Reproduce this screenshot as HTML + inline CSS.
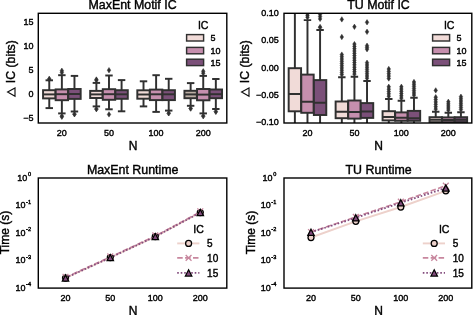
<!DOCTYPE html>
<html><head><meta charset="utf-8"><style>
html,body{margin:0;padding:0;background:#fff;width:473px;height:315px;overflow:hidden}
svg{display:block;will-change:transform;filter:blur(0.35px)}
text{font-family:"Liberation Sans", sans-serif;fill:#000;stroke:#000;stroke-width:0.4px}
</style></head><body>
<svg width="473" height="315" viewBox="0 0 473 315">
<text x="132.6" y="8.7" font-size="12.4" text-anchor="middle" >MaxEnt Motif IC</text>
<rect x="38.3" y="13.3" width="188.5" height="109.7" fill="none" stroke="#000" stroke-width="1.4"/>
<path d="M49.26 76.30L51.01 79.00L49.26 81.70L47.51 79.00ZM49.26 76.30L51.01 79.00L49.26 81.70L47.51 79.00Z" fill="#303030" stroke="#303030" stroke-width="0.5"/>
<g stroke="#303030" stroke-width="1.95"><line x1="49.262499999999996" y1="90.2" x2="49.262499999999996" y2="80.3" /><line x1="49.262499999999996" y1="98.4" x2="49.262499999999996" y2="108.1" /><line x1="45.5425" y1="80.3" x2="52.982499999999995" y2="80.3" /><line x1="45.5425" y1="108.1" x2="52.982499999999995" y2="108.1" /><rect x="43.06249999999999" y="90.2" width="12.4" height="8.200000000000003" fill="#f1dbd8" /><line x1="43.06249999999999" y1="94.4" x2="55.4625" y2="94.4" /></g>
<path d="M61.86 68.00L63.61 70.70L61.86 73.40L60.11 70.70ZM61.86 69.80L63.61 72.50L61.86 75.20L60.11 72.50ZM61.86 113.40L63.61 116.10L61.86 118.80L60.11 116.10ZM61.86 114.10L63.61 116.80L61.86 119.50L60.11 116.80Z" fill="#303030" stroke="#303030" stroke-width="0.5"/>
<g stroke="#303030" stroke-width="1.95"><line x1="61.8625" y1="89.4" x2="61.8625" y2="75.2" /><line x1="61.8625" y1="100.2" x2="61.8625" y2="113.4" /><line x1="58.1425" y1="75.2" x2="65.5825" y2="75.2" /><line x1="58.1425" y1="113.4" x2="65.5825" y2="113.4" /><rect x="55.662499999999994" y="89.4" width="12.4" height="10.799999999999997" fill="#c68fae" /><line x1="55.662499999999994" y1="94.2" x2="68.0625" y2="94.2" /></g>
<path d="M74.46 111.50L76.21 114.20L74.46 116.90L72.71 114.20ZM74.46 111.50L76.21 114.20L74.46 116.90L72.71 114.20Z" fill="#303030" stroke="#303030" stroke-width="0.5"/>
<g stroke="#303030" stroke-width="1.95"><line x1="74.46249999999999" y1="89.0" x2="74.46249999999999" y2="75.9" /><line x1="74.46249999999999" y1="98.9" x2="74.46249999999999" y2="111.5" /><line x1="70.74249999999999" y1="75.9" x2="78.18249999999999" y2="75.9" /><line x1="70.74249999999999" y1="111.5" x2="78.18249999999999" y2="111.5" /><rect x="68.26249999999999" y="89.0" width="12.4" height="9.900000000000006" fill="#7b5079" /><line x1="68.26249999999999" y1="94.0" x2="80.6625" y2="94.0" /></g>
<path d="M96.39 76.80L98.14 79.50L96.39 82.20L94.64 79.50ZM96.39 77.50L98.14 80.20L96.39 82.90L94.64 80.20ZM96.39 106.40L98.14 109.10L96.39 111.80L94.64 109.10ZM96.39 106.40L98.14 109.10L96.39 111.80L94.64 109.10Z" fill="#303030" stroke="#303030" stroke-width="0.5"/>
<g stroke="#303030" stroke-width="1.95"><line x1="96.3875" y1="90.9" x2="96.3875" y2="82.9" /><line x1="96.3875" y1="98.0" x2="96.3875" y2="106.4" /><line x1="92.6675" y1="82.9" x2="100.1075" y2="82.9" /><line x1="92.6675" y1="106.4" x2="100.1075" y2="106.4" /><rect x="90.1875" y="90.9" width="12.4" height="7.099999999999994" fill="#f1dbd8" /><line x1="90.1875" y1="94.4" x2="102.5875" y2="94.4" /></g>
<path d="M108.99 67.50L110.74 70.20L108.99 72.90L107.24 70.20ZM108.99 111.70L110.74 114.40L108.99 117.10L107.24 114.40Z" fill="#303030" stroke="#303030" stroke-width="0.5"/>
<g stroke="#303030" stroke-width="1.95"><line x1="108.9875" y1="89.2" x2="108.9875" y2="75.5" /><line x1="108.9875" y1="99.8" x2="108.9875" y2="109.3" /><line x1="105.2675" y1="75.5" x2="112.7075" y2="75.5" /><line x1="105.2675" y1="109.3" x2="112.7075" y2="109.3" /><rect x="102.7875" y="89.2" width="12.4" height="10.599999999999994" fill="#c68fae" /><line x1="102.7875" y1="94.2" x2="115.1875" y2="94.2" /></g>
<g stroke="#303030" stroke-width="1.95"><line x1="121.58749999999999" y1="90.2" x2="121.58749999999999" y2="80.1" /><line x1="121.58749999999999" y1="98.8" x2="121.58749999999999" y2="111.3" /><line x1="117.86749999999999" y1="80.1" x2="125.30749999999999" y2="80.1" /><line x1="117.86749999999999" y1="111.3" x2="125.30749999999999" y2="111.3" /><rect x="115.38749999999999" y="90.2" width="12.4" height="8.599999999999994" fill="#7b5079" /><line x1="115.38749999999999" y1="94.3" x2="127.7875" y2="94.3" /></g>
<g stroke="#303030" stroke-width="1.95"><line x1="143.51250000000002" y1="90.3" x2="143.51250000000002" y2="81.3" /><line x1="143.51250000000002" y1="98.7" x2="143.51250000000002" y2="106.4" /><line x1="139.79250000000002" y1="81.3" x2="147.23250000000002" y2="81.3" /><line x1="139.79250000000002" y1="106.4" x2="147.23250000000002" y2="106.4" /><rect x="137.31250000000003" y="90.3" width="12.4" height="8.400000000000006" fill="#f1dbd8" /><line x1="137.31250000000003" y1="94.5" x2="149.7125" y2="94.5" /></g>
<g stroke="#303030" stroke-width="1.95"><line x1="156.1125" y1="89.6" x2="156.1125" y2="75.2" /><line x1="156.1125" y1="100.1" x2="156.1125" y2="111.9" /><line x1="152.3925" y1="75.2" x2="159.8325" y2="75.2" /><line x1="152.3925" y1="111.9" x2="159.8325" y2="111.9" /><rect x="149.91250000000002" y="89.6" width="12.4" height="10.5" fill="#c68fae" /><line x1="149.91250000000002" y1="94.3" x2="162.3125" y2="94.3" /></g>
<path d="M168.71 110.60L170.46 113.30L168.71 116.00L166.96 113.30ZM168.71 110.60L170.46 113.30L168.71 116.00L166.96 113.30Z" fill="#303030" stroke="#303030" stroke-width="0.5"/>
<g stroke="#303030" stroke-width="1.95"><line x1="168.7125" y1="90.2" x2="168.7125" y2="78.8" /><line x1="168.7125" y1="100.1" x2="168.7125" y2="110.6" /><line x1="164.9925" y1="78.8" x2="172.4325" y2="78.8" /><line x1="164.9925" y1="110.6" x2="172.4325" y2="110.6" /><rect x="162.51250000000002" y="90.2" width="12.4" height="9.899999999999991" fill="#7b5079" /><line x1="162.51250000000002" y1="94.3" x2="174.9125" y2="94.3" /></g>
<path d="M190.64 105.80L192.39 108.50L190.64 111.20L188.89 108.50ZM190.64 105.80L192.39 108.50L190.64 111.20L188.89 108.50Z" fill="#303030" stroke="#303030" stroke-width="0.5"/>
<g stroke="#303030" stroke-width="1.95"><line x1="190.63750000000002" y1="90.8" x2="190.63750000000002" y2="83.1" /><line x1="190.63750000000002" y1="98.2" x2="190.63750000000002" y2="105.8" /><line x1="186.91750000000002" y1="83.1" x2="194.35750000000002" y2="83.1" /><line x1="186.91750000000002" y1="105.8" x2="194.35750000000002" y2="105.8" /><rect x="184.43750000000003" y="90.8" width="12.4" height="7.400000000000006" fill="#bcaea4" /><line x1="184.43750000000003" y1="94.4" x2="196.8375" y2="94.4" /></g>
<path d="M203.24 68.60L204.99 71.30L203.24 74.00L201.49 71.30ZM203.24 70.50L204.99 73.20L203.24 75.90L201.49 73.20ZM203.24 113.40L204.99 116.10L203.24 118.80L201.49 116.10ZM203.24 113.40L204.99 116.10L203.24 118.80L201.49 116.10Z" fill="#303030" stroke="#303030" stroke-width="0.5"/>
<g stroke="#303030" stroke-width="1.95"><line x1="203.2375" y1="89.0" x2="203.2375" y2="75.9" /><line x1="203.2375" y1="100.3" x2="203.2375" y2="113.4" /><line x1="199.5175" y1="75.9" x2="206.9575" y2="75.9" /><line x1="199.5175" y1="113.4" x2="206.9575" y2="113.4" /><rect x="197.03750000000002" y="89.0" width="12.4" height="11.299999999999997" fill="#c68fae" /><line x1="197.03750000000002" y1="94.6" x2="209.4375" y2="94.6" /></g>
<path d="M215.84 109.00L217.59 111.70L215.84 114.40L214.09 111.70ZM215.84 109.00L217.59 111.70L215.84 114.40L214.09 111.70Z" fill="#303030" stroke="#303030" stroke-width="0.5"/>
<g stroke="#303030" stroke-width="1.95"><line x1="215.8375" y1="89.5" x2="215.8375" y2="79.0" /><line x1="215.8375" y1="98.2" x2="215.8375" y2="109.0" /><line x1="212.1175" y1="79.0" x2="219.5575" y2="79.0" /><line x1="212.1175" y1="109.0" x2="219.5575" y2="109.0" /><rect x="209.63750000000002" y="89.5" width="12.4" height="8.700000000000003" fill="#7b5079" /><line x1="209.63750000000002" y1="94.2" x2="222.0375" y2="94.2" /></g>
<text x="33.4" y="25.2" font-size="9" text-anchor="end" >15</text>
<text x="33.4" y="49.099999999999994" font-size="9" text-anchor="end" >10</text>
<text x="33.4" y="72.89999999999999" font-size="9" text-anchor="end" >5</text>
<text x="33.4" y="97.0" font-size="9" text-anchor="end" >0</text>
<text x="33.4" y="121.2" font-size="9" text-anchor="end" >−5</text>
<text x="61.8625" y="135.8" font-size="9" text-anchor="middle" >20</text>
<text x="108.9875" y="135.8" font-size="9" text-anchor="middle" >50</text>
<text x="156.1125" y="135.8" font-size="9" text-anchor="middle" >100</text>
<text x="203.2375" y="135.8" font-size="9" text-anchor="middle" >200</text>
<text x="133.2" y="149.6" font-size="12" text-anchor="middle" >N</text>
<text transform="translate(15.4 83.2) rotate(-90)" font-size="12.3" text-anchor="start">IC (bits)</text>
<path d="M7.6 92.0L15.0 87.9L15.0 96.2Z" fill="none" stroke="#111" stroke-width="1.15" stroke-linejoin="miter"/>
<text x="203.2" y="28.7" font-size="10.5" text-anchor="middle" >IC</text>
<rect x="186.6" y="34.6" width="17" height="6.4" fill="#f1dbd8" stroke="#303030" stroke-width="1.45"/>
<text x="210.4" y="41.0" font-size="9" text-anchor="start" >5</text>
<rect x="186.6" y="47.4" width="17" height="6.4" fill="#c68fae" stroke="#303030" stroke-width="1.45"/>
<text x="210.4" y="53.8" font-size="9" text-anchor="start" >10</text>
<rect x="186.6" y="59.2" width="17" height="6.4" fill="#7b5079" stroke="#303030" stroke-width="1.45"/>
<text x="210.4" y="65.60000000000001" font-size="9" text-anchor="start" >15</text>
<text x="378.5" y="8.7" font-size="12.4" text-anchor="middle" >TU Motif IC</text>
<clipPath id="c1"><rect x="284.0" y="13.3" width="187.8" height="109.7"/></clipPath>
<g clip-path="url(#c1)">
<g stroke="#303030" stroke-width="1.95"><line x1="294.875" y1="68.2" x2="294.875" y2="5.0" /><line x1="294.875" y1="111.3" x2="294.875" y2="140" /><line x1="291.155" y1="5.0" x2="298.595" y2="5.0" /><line x1="291.155" y1="140" x2="298.595" y2="140" /><rect x="288.675" y="68.2" width="12.4" height="43.099999999999994" fill="#f1dbd8" /><line x1="288.675" y1="94.0" x2="301.075" y2="94.0" /></g>
<path d="M307.48 11.00L309.23 13.70L307.48 16.40L305.73 13.70ZM307.48 12.80L309.23 15.50L307.48 18.20L305.73 15.50ZM307.48 14.60L309.23 17.30L307.48 20.00L305.73 17.30Z" fill="#303030" stroke="#303030" stroke-width="0.5"/>
<g stroke="#303030" stroke-width="1.95"><line x1="307.475" y1="74.6" x2="307.475" y2="20.1" /><line x1="307.475" y1="112.8" x2="307.475" y2="140" /><line x1="303.755" y1="20.1" x2="311.19500000000005" y2="20.1" /><line x1="303.755" y1="140" x2="311.19500000000005" y2="140" /><rect x="301.27500000000003" y="74.6" width="12.4" height="38.2" fill="#c68fae" /><line x1="301.27500000000003" y1="101.7" x2="313.675" y2="101.7" /></g>
<path d="M320.08 11.50L321.83 14.20L320.08 16.90L318.33 14.20ZM320.08 13.85L321.83 16.55L320.08 19.25L318.33 16.55ZM320.08 16.20L321.83 18.90L320.08 21.60L318.33 18.90ZM320.08 24.50L321.83 27.20L320.08 29.90L318.33 27.20ZM320.08 24.50L321.83 27.20L320.08 29.90L318.33 27.20Z" fill="#303030" stroke="#303030" stroke-width="0.5"/>
<g stroke="#303030" stroke-width="1.95"><line x1="320.07500000000005" y1="80.1" x2="320.07500000000005" y2="29.9" /><line x1="320.07500000000005" y1="115.0" x2="320.07500000000005" y2="140" /><line x1="316.355" y1="29.9" x2="323.7950000000001" y2="29.9" /><line x1="316.355" y1="140" x2="323.7950000000001" y2="140" /><rect x="313.87500000000006" y="80.1" width="12.4" height="34.900000000000006" fill="#7b5079" /><line x1="313.87500000000006" y1="102.7" x2="326.27500000000003" y2="102.7" /></g>
<path d="M341.82 16.70L343.57 19.40L341.82 22.10L340.07 19.40ZM341.82 34.30L343.57 37.00L341.82 39.70L340.07 37.00ZM341.82 51.90L343.57 54.60L341.82 57.30L340.07 54.60ZM341.82 54.12L343.57 56.82L341.82 59.52L340.07 56.82ZM341.82 56.34L343.57 59.04L341.82 61.74L340.07 59.04ZM341.82 58.57L343.57 61.27L341.82 63.97L340.07 61.27ZM341.82 60.79L343.57 63.49L341.82 66.19L340.07 63.49ZM341.82 63.01L343.57 65.71L341.82 68.41L340.07 65.71ZM341.82 65.23L343.57 67.93L341.82 70.63L340.07 67.93ZM341.82 67.46L343.57 70.16L341.82 72.86L340.07 70.16ZM341.82 69.68L343.57 72.38L341.82 75.08L340.07 72.38ZM341.82 71.90L343.57 74.60L341.82 77.30L340.07 74.60Z" fill="#303030" stroke="#303030" stroke-width="0.5"/>
<g stroke="#303030" stroke-width="1.95"><line x1="341.825" y1="101.5" x2="341.825" y2="77.3" /><line x1="341.825" y1="118.2" x2="341.825" y2="140" /><line x1="338.10499999999996" y1="77.3" x2="345.545" y2="77.3" /><line x1="338.10499999999996" y1="140" x2="345.545" y2="140" /><rect x="335.625" y="101.5" width="12.4" height="16.700000000000003" fill="#f1dbd8" /><line x1="335.625" y1="111.7" x2="348.025" y2="111.7" /></g>
<path d="M354.43 24.10L356.18 26.80L354.43 29.50L352.68 26.80ZM354.43 41.40L356.18 44.10L354.43 46.80L352.68 44.10ZM354.43 43.71L356.18 46.41L354.43 49.11L352.68 46.41ZM354.43 46.02L356.18 48.72L354.43 51.42L352.68 48.72ZM354.43 48.32L356.18 51.02L354.43 53.72L352.68 51.02ZM354.43 50.63L356.18 53.33L354.43 56.03L352.68 53.33ZM354.43 52.94L356.18 55.64L354.43 58.34L352.68 55.64ZM354.43 55.25L356.18 57.95L354.43 60.65L352.68 57.95ZM354.43 57.55L356.18 60.25L354.43 62.95L352.68 60.25ZM354.43 59.86L356.18 62.56L354.43 65.26L352.68 62.56ZM354.43 62.17L356.18 64.87L354.43 67.57L352.68 64.87ZM354.43 64.48L356.18 67.18L354.43 69.88L352.68 67.18ZM354.43 66.78L356.18 69.48L354.43 72.18L352.68 69.48ZM354.43 69.09L356.18 71.79L354.43 74.49L352.68 71.79ZM354.43 71.40L356.18 74.10L354.43 76.80L352.68 74.10Z" fill="#303030" stroke="#303030" stroke-width="0.5"/>
<g stroke="#303030" stroke-width="1.95"><line x1="354.425" y1="100.5" x2="354.425" y2="76.8" /><line x1="354.425" y1="118.6" x2="354.425" y2="140" /><line x1="350.705" y1="76.8" x2="358.14500000000004" y2="76.8" /><line x1="350.705" y1="140" x2="358.14500000000004" y2="140" /><rect x="348.225" y="100.5" width="12.4" height="18.099999999999994" fill="#c68fae" /><line x1="348.225" y1="112.0" x2="360.625" y2="112.0" /></g>
<path d="M367.03 19.60L368.78 22.30L367.03 25.00L365.28 22.30ZM367.03 29.10L368.78 31.80L367.03 34.50L365.28 31.80ZM367.03 43.00L368.78 45.70L367.03 48.40L365.28 45.70ZM367.03 44.75L368.78 47.45L367.03 50.15L365.28 47.45ZM367.03 46.50L368.78 49.20L367.03 51.90L365.28 49.20ZM367.03 60.00L368.78 62.70L367.03 65.40L365.28 62.70ZM367.03 62.21L368.78 64.91L367.03 67.61L365.28 64.91ZM367.03 64.43L368.78 67.13L367.03 69.83L365.28 67.13ZM367.03 66.64L368.78 69.34L367.03 72.04L365.28 69.34ZM367.03 68.86L368.78 71.56L367.03 74.26L365.28 71.56ZM367.03 71.07L368.78 73.77L367.03 76.47L365.28 73.77ZM367.03 73.29L368.78 75.99L367.03 78.69L365.28 75.99ZM367.03 75.50L368.78 78.20L367.03 80.90L365.28 78.20Z" fill="#303030" stroke="#303030" stroke-width="0.5"/>
<g stroke="#303030" stroke-width="1.95"><line x1="367.02500000000003" y1="103.1" x2="367.02500000000003" y2="80.9" /><line x1="367.02500000000003" y1="117.9" x2="367.02500000000003" y2="140" /><line x1="363.305" y1="80.9" x2="370.74500000000006" y2="80.9" /><line x1="363.305" y1="140" x2="370.74500000000006" y2="140" /><rect x="360.82500000000005" y="103.1" width="12.4" height="14.800000000000011" fill="#7b5079" /><line x1="360.82500000000005" y1="111.4" x2="373.225" y2="111.4" /></g>
<path d="M388.77 66.30L390.52 69.00L388.77 71.70L387.02 69.00ZM388.77 68.67L390.52 71.38L388.77 74.08L387.02 71.38ZM388.77 71.05L390.52 73.75L388.77 76.45L387.02 73.75ZM388.77 73.42L390.52 76.12L388.77 78.83L387.02 76.12ZM388.77 75.80L390.52 78.50L388.77 81.20L387.02 78.50ZM388.77 84.10L390.52 86.80L388.77 89.50L387.02 86.80ZM388.77 86.45L390.52 89.15L388.77 91.85L387.02 89.15ZM388.77 88.80L390.52 91.50L388.77 94.20L387.02 91.50ZM388.77 91.15L390.52 93.85L388.77 96.55L387.02 93.85ZM388.77 93.50L390.52 96.20L388.77 98.90L387.02 96.20Z" fill="#303030" stroke="#303030" stroke-width="0.5"/>
<g stroke="#303030" stroke-width="1.95"><line x1="388.775" y1="111.2" x2="388.775" y2="98.9" /><line x1="388.775" y1="120.4" x2="388.775" y2="140" /><line x1="385.05499999999995" y1="98.9" x2="392.495" y2="98.9" /><line x1="385.05499999999995" y1="140" x2="392.495" y2="140" /><rect x="382.575" y="111.2" width="12.4" height="9.200000000000003" fill="#f1dbd8" /><line x1="382.575" y1="116.9" x2="394.97499999999997" y2="116.9" /></g>
<path d="M401.38 84.10L403.12 86.80L401.38 89.50L399.62 86.80ZM401.38 86.36L403.12 89.06L401.38 91.76L399.62 89.06ZM401.38 88.62L403.12 91.32L401.38 94.02L399.62 91.32ZM401.38 90.88L403.12 93.58L401.38 96.28L399.62 93.58ZM401.38 93.14L403.12 95.84L401.38 98.54L399.62 95.84ZM401.38 95.40L403.12 98.10L401.38 100.80L399.62 98.10Z" fill="#303030" stroke="#303030" stroke-width="0.5"/>
<g stroke="#303030" stroke-width="1.95"><line x1="401.375" y1="112.4" x2="401.375" y2="100.8" /><line x1="401.375" y1="120.8" x2="401.375" y2="140" /><line x1="397.655" y1="100.8" x2="405.095" y2="100.8" /><line x1="397.655" y1="140" x2="405.095" y2="140" /><rect x="395.175" y="112.4" width="12.4" height="8.399999999999991" fill="#c68fae" /><line x1="395.175" y1="117.8" x2="407.575" y2="117.8" /></g>
<path d="M413.98 79.30L415.73 82.00L413.98 84.70L412.23 82.00ZM413.98 81.48L415.73 84.18L413.98 86.88L412.23 84.18ZM413.98 83.67L415.73 86.37L413.98 89.07L412.23 86.37ZM413.98 85.85L415.73 88.55L413.98 91.25L412.23 88.55ZM413.98 88.03L415.73 90.73L413.98 93.43L412.23 90.73ZM413.98 90.22L415.73 92.92L413.98 95.62L412.23 92.92ZM413.98 92.40L415.73 95.10L413.98 97.80L412.23 95.10Z" fill="#303030" stroke="#303030" stroke-width="0.5"/>
<g stroke="#303030" stroke-width="1.95"><line x1="413.975" y1="110.9" x2="413.975" y2="97.8" /><line x1="413.975" y1="120.8" x2="413.975" y2="140" /><line x1="410.255" y1="97.8" x2="417.69500000000005" y2="97.8" /><line x1="410.255" y1="140" x2="417.69500000000005" y2="140" /><rect x="407.77500000000003" y="110.9" width="12.4" height="9.899999999999991" fill="#7b5079" /><line x1="407.77500000000003" y1="118.3" x2="420.175" y2="118.3" /></g>
<path d="M435.73 87.70L437.48 90.40L435.73 93.10L433.98 90.40ZM435.73 94.50L437.48 97.20L435.73 99.90L433.98 97.20ZM435.73 96.88L437.48 99.58L435.73 102.28L433.98 99.58ZM435.73 99.26L437.48 101.96L435.73 104.66L433.98 101.96ZM435.73 101.64L437.48 104.34L435.73 107.04L433.98 104.34ZM435.73 104.02L437.48 106.72L435.73 109.42L433.98 106.72ZM435.73 106.40L437.48 109.10L435.73 111.80L433.98 109.10Z" fill="#303030" stroke="#303030" stroke-width="0.5"/>
<g stroke="#303030" stroke-width="1.95"><line x1="435.725" y1="117.2" x2="435.725" y2="111.8" /><line x1="435.725" y1="122.2" x2="435.725" y2="140" /><line x1="432.005" y1="111.8" x2="439.44500000000005" y2="111.8" /><line x1="432.005" y1="140" x2="439.44500000000005" y2="140" /><rect x="429.52500000000003" y="117.2" width="12.4" height="5.0" fill="#f1dbd8" /><line x1="429.52500000000003" y1="119.7" x2="441.925" y2="119.7" /></g>
<path d="M448.33 99.10L450.08 101.80L448.33 104.50L446.58 101.80ZM448.33 101.17L450.08 103.88L448.33 106.58L446.58 103.88ZM448.33 103.25L450.08 105.95L448.33 108.65L446.58 105.95ZM448.33 105.32L450.08 108.02L448.33 110.72L446.58 108.02ZM448.33 107.40L450.08 110.10L448.33 112.80L446.58 110.10Z" fill="#303030" stroke="#303030" stroke-width="0.5"/>
<g stroke="#303030" stroke-width="1.95"><line x1="448.32500000000005" y1="117.4" x2="448.32500000000005" y2="112.8" /><line x1="448.32500000000005" y1="122.2" x2="448.32500000000005" y2="140" /><line x1="444.605" y1="112.8" x2="452.0450000000001" y2="112.8" /><line x1="444.605" y1="140" x2="452.0450000000001" y2="140" /><rect x="442.12500000000006" y="117.4" width="12.4" height="4.799999999999997" fill="#c68fae" /><line x1="442.12500000000006" y1="119.9" x2="454.52500000000003" y2="119.9" /></g>
<path d="M460.93 94.00L462.68 96.70L460.93 99.40L459.18 96.70ZM460.93 96.15L462.68 98.85L460.93 101.55L459.18 98.85ZM460.93 98.30L462.68 101.00L460.93 103.70L459.18 101.00ZM460.93 100.45L462.68 103.15L460.93 105.85L459.18 103.15ZM460.93 102.60L462.68 105.30L460.93 108.00L459.18 105.30ZM460.93 104.75L462.68 107.45L460.93 110.15L459.18 107.45ZM460.93 106.90L462.68 109.60L460.93 112.30L459.18 109.60Z" fill="#303030" stroke="#303030" stroke-width="0.5"/>
<g stroke="#303030" stroke-width="1.95"><line x1="460.92500000000007" y1="117.2" x2="460.92500000000007" y2="112.3" /><line x1="460.92500000000007" y1="122.2" x2="460.92500000000007" y2="140" /><line x1="457.20500000000004" y1="112.3" x2="464.6450000000001" y2="112.3" /><line x1="457.20500000000004" y1="140" x2="464.6450000000001" y2="140" /><rect x="454.7250000000001" y="117.2" width="12.4" height="5.0" fill="#7b5079" /><line x1="454.7250000000001" y1="119.8" x2="467.12500000000006" y2="119.8" /></g>
</g>
<rect x="284.0" y="13.3" width="187.8" height="109.7" fill="none" stroke="#000" stroke-width="1.4"/>
<text x="278.8" y="15.7" font-size="9" text-anchor="end" >0.10</text>
<text x="278.8" y="43.0" font-size="9" text-anchor="end" >0.05</text>
<text x="278.8" y="70.6" font-size="9" text-anchor="end" >0.00</text>
<text x="278.8" y="98.1" font-size="9" text-anchor="end" >−0.05</text>
<text x="278.8" y="125.39999999999999" font-size="9" text-anchor="end" >−0.10</text>
<text x="307.475" y="135.8" font-size="9" text-anchor="middle" >20</text>
<text x="354.425" y="135.8" font-size="9" text-anchor="middle" >50</text>
<text x="401.375" y="135.8" font-size="9" text-anchor="middle" >100</text>
<text x="448.32500000000005" y="135.8" font-size="9" text-anchor="middle" >200</text>
<text x="378.6" y="149.6" font-size="12" text-anchor="middle" >N</text>
<text transform="translate(249.4 83.2) rotate(-90)" font-size="12.3" text-anchor="start">IC (bits)</text>
<path d="M241.6 92.0L249.0 87.9L249.0 96.2Z" fill="none" stroke="#111" stroke-width="1.15" stroke-linejoin="miter"/>
<text x="449.2" y="28.7" font-size="10.5" text-anchor="middle" >IC</text>
<rect x="432.6" y="34.6" width="17" height="6.4" fill="#f1dbd8" stroke="#303030" stroke-width="1.45"/>
<text x="456.4" y="41.0" font-size="9" text-anchor="start" >5</text>
<rect x="432.6" y="47.4" width="17" height="6.4" fill="#c68fae" stroke="#303030" stroke-width="1.45"/>
<text x="456.4" y="53.8" font-size="9" text-anchor="start" >10</text>
<rect x="432.6" y="59.2" width="17" height="6.4" fill="#7b5079" stroke="#303030" stroke-width="1.45"/>
<text x="456.4" y="65.60000000000001" font-size="9" text-anchor="start" >15</text>
<text x="132.7" y="173.9" font-size="12.4" text-anchor="middle" >MaxEnt Runtime</text>
<rect x="38.3" y="178.0" width="188.5" height="110.10000000000002" fill="none" stroke="#000" stroke-width="1.4"/>
<path d="M65.5 278.0L110.3 257.6L155.3 236.6L200.3 212.5" fill="none" stroke="#edd1cb" stroke-width="1.9" />
<path d="M65.5 277.4L110.3 257.0L155.3 236.0L200.3 211.9" fill="none" stroke="#c8879e" stroke-width="1.6" stroke-dasharray="5.5 2.4"/>
<path d="M65.5 278.0L110.3 257.6L155.3 236.6L200.3 212.5" fill="none" stroke="#834c7d" stroke-width="1.8" stroke-dasharray="1.6 1.9"/>
<circle cx="65.5" cy="278.0" r="3.0" fill="#edd1cb" stroke="#000" stroke-width="1.25"/>
<path d="M62.6 273.90000000000003L68.4 279.7M62.6 279.7L68.4 273.90000000000003" stroke="#c8879e" stroke-width="1.3" fill="none"/>
<path d="M65.5 274.9L68.7 281.1L62.3 281.1Z" fill="#834c7d" stroke="#000" stroke-width="1.25" stroke-linejoin="miter"/>
<circle cx="110.3" cy="257.6" r="3.0" fill="#edd1cb" stroke="#000" stroke-width="1.25"/>
<path d="M107.39999999999999 253.50000000000003L113.2 259.3M107.39999999999999 259.3L113.2 253.50000000000003" stroke="#c8879e" stroke-width="1.3" fill="none"/>
<path d="M110.3 254.50000000000003L113.5 260.70000000000005L107.1 260.70000000000005Z" fill="#834c7d" stroke="#000" stroke-width="1.25" stroke-linejoin="miter"/>
<circle cx="155.3" cy="236.6" r="3.0" fill="#edd1cb" stroke="#000" stroke-width="1.25"/>
<path d="M152.4 232.5L158.20000000000002 238.3M152.4 238.3L158.20000000000002 232.5" stroke="#c8879e" stroke-width="1.3" fill="none"/>
<path d="M155.3 233.5L158.5 239.7L152.10000000000002 239.7Z" fill="#834c7d" stroke="#000" stroke-width="1.25" stroke-linejoin="miter"/>
<circle cx="200.3" cy="212.5" r="3.0" fill="#edd1cb" stroke="#000" stroke-width="1.25"/>
<path d="M197.4 208.4L203.20000000000002 214.20000000000002M197.4 214.20000000000002L203.20000000000002 208.4" stroke="#c8879e" stroke-width="1.3" fill="none"/>
<path d="M200.3 209.4L203.5 215.6L197.10000000000002 215.6Z" fill="#834c7d" stroke="#000" stroke-width="1.25" stroke-linejoin="miter"/>
<text x="31.05" y="180.79999999999998" font-size="9" text-anchor="end">10<tspan font-size="5.6" dx="0.6" dy="-4.6">0</tspan></text>
<text x="31.05" y="208.2" font-size="9" text-anchor="end">10<tspan font-size="5.6" dx="0.6" dy="-4.6">-1</tspan></text>
<text x="31.05" y="235.7" font-size="9" text-anchor="end">10<tspan font-size="5.6" dx="0.6" dy="-4.6">-2</tspan></text>
<text x="31.05" y="263.2" font-size="9" text-anchor="end">10<tspan font-size="5.6" dx="0.6" dy="-4.6">-3</tspan></text>
<text x="31.05" y="290.8" font-size="9" text-anchor="end">10<tspan font-size="5.6" dx="0.6" dy="-4.6">-4</tspan></text>
<text x="65.5" y="300.8" font-size="9" text-anchor="middle" >20</text>
<text x="110.3" y="300.8" font-size="9" text-anchor="middle" >50</text>
<text x="155.3" y="300.8" font-size="9" text-anchor="middle" >100</text>
<text x="200.3" y="300.8" font-size="9" text-anchor="middle" >200</text>
<text x="133.2" y="314.6" font-size="12" text-anchor="middle" >N</text>
<text transform="translate(8.9 232.6) rotate(-90)" font-size="12" text-anchor="middle">Time (s)</text>
<text x="198.6" y="232.8" font-size="10.5" text-anchor="middle" >IC</text>
<line x1="177.2" y1="243.4" x2="199.4" y2="243.4" stroke="#edd1cb" stroke-width="1.9" />
<circle cx="188.6" cy="243.4" r="3.0" fill="#edd1cb" stroke="#000" stroke-width="1.25"/>
<text x="207.1" y="247.0" font-size="10" text-anchor="start" >5</text>
<line x1="177.2" y1="257.9" x2="199.4" y2="257.9" stroke="#c8879e" stroke-width="1.6" stroke-dasharray="5.5 2.4"/>
<path d="M185.7 254.99999999999997L191.5 260.79999999999995M185.7 260.79999999999995L191.5 254.99999999999997" stroke="#c8879e" stroke-width="1.3" fill="none"/>
<text x="207.1" y="261.5" font-size="10" text-anchor="start" >10</text>
<line x1="177.2" y1="272.9" x2="199.4" y2="272.9" stroke="#834c7d" stroke-width="1.8" stroke-dasharray="1.6 1.9"/>
<path d="M188.6 269.79999999999995L191.79999999999998 276.0L185.4 276.0Z" fill="#834c7d" stroke="#000" stroke-width="1.25" stroke-linejoin="miter"/>
<text x="207.1" y="276.5" font-size="10" text-anchor="start" >15</text>
<text x="378.6" y="173.9" font-size="12.4" text-anchor="middle" >TU Runtime</text>
<rect x="284.0" y="178.0" width="187.8" height="110.10000000000002" fill="none" stroke="#000" stroke-width="1.4"/>
<path d="M311.0 237.5L355.8 221.3L400.8 207.0L445.8 190.8" fill="none" stroke="#edd1cb" stroke-width="1.9" />
<path d="M311.0 232.0L355.8 216.9L400.8 201.7L445.8 185.7" fill="none" stroke="#c8879e" stroke-width="1.6" stroke-dasharray="5.5 2.4"/>
<path d="M311.0 232.3L355.8 217.8L400.8 202.8L445.8 188.0" fill="none" stroke="#834c7d" stroke-width="1.8" stroke-dasharray="1.6 1.9"/>
<circle cx="311.0" cy="237.5" r="3.0" fill="#edd1cb" stroke="#000" stroke-width="1.25"/>
<path d="M308.1 229.1L313.9 234.9M308.1 234.9L313.9 229.1" stroke="#c8879e" stroke-width="1.3" fill="none"/>
<path d="M311.0 229.20000000000002L314.2 235.4L307.8 235.4Z" fill="#834c7d" stroke="#000" stroke-width="1.25" stroke-linejoin="miter"/>
<circle cx="355.8" cy="221.3" r="3.0" fill="#edd1cb" stroke="#000" stroke-width="1.25"/>
<path d="M352.90000000000003 214.0L358.7 219.8M352.90000000000003 219.8L358.7 214.0" stroke="#c8879e" stroke-width="1.3" fill="none"/>
<path d="M355.8 214.70000000000002L359.0 220.9L352.6 220.9Z" fill="#834c7d" stroke="#000" stroke-width="1.25" stroke-linejoin="miter"/>
<circle cx="400.8" cy="207.0" r="3.0" fill="#edd1cb" stroke="#000" stroke-width="1.25"/>
<path d="M397.90000000000003 198.79999999999998L403.7 204.6M397.90000000000003 204.6L403.7 198.79999999999998" stroke="#c8879e" stroke-width="1.3" fill="none"/>
<path d="M400.8 199.70000000000002L404.0 205.9L397.6 205.9Z" fill="#834c7d" stroke="#000" stroke-width="1.25" stroke-linejoin="miter"/>
<circle cx="445.8" cy="190.8" r="3.0" fill="#edd1cb" stroke="#000" stroke-width="1.25"/>
<path d="M442.90000000000003 182.79999999999998L448.7 188.6M442.90000000000003 188.6L448.7 182.79999999999998" stroke="#c8879e" stroke-width="1.3" fill="none"/>
<path d="M445.8 184.9L449.0 191.1L442.6 191.1Z" fill="#834c7d" stroke="#000" stroke-width="1.25" stroke-linejoin="miter"/>
<text x="276.3" y="180.79999999999998" font-size="9" text-anchor="end">10<tspan font-size="5.6" dx="0.6" dy="-4.6">0</tspan></text>
<text x="276.3" y="208.2" font-size="9" text-anchor="end">10<tspan font-size="5.6" dx="0.6" dy="-4.6">-1</tspan></text>
<text x="276.3" y="235.7" font-size="9" text-anchor="end">10<tspan font-size="5.6" dx="0.6" dy="-4.6">-2</tspan></text>
<text x="276.3" y="263.2" font-size="9" text-anchor="end">10<tspan font-size="5.6" dx="0.6" dy="-4.6">-3</tspan></text>
<text x="276.3" y="290.8" font-size="9" text-anchor="end">10<tspan font-size="5.6" dx="0.6" dy="-4.6">-4</tspan></text>
<text x="311.0" y="300.8" font-size="9" text-anchor="middle" >20</text>
<text x="355.8" y="300.8" font-size="9" text-anchor="middle" >50</text>
<text x="400.8" y="300.8" font-size="9" text-anchor="middle" >100</text>
<text x="445.8" y="300.8" font-size="9" text-anchor="middle" >200</text>
<text x="378.6" y="314.6" font-size="12" text-anchor="middle" >N</text>
<text transform="translate(254.5 232.6) rotate(-90)" font-size="12" text-anchor="middle">Time (s)</text>
<text x="444.2" y="232.8" font-size="10.5" text-anchor="middle" >IC</text>
<line x1="422.8" y1="243.4" x2="445.0" y2="243.4" stroke="#edd1cb" stroke-width="1.9" />
<circle cx="434.2" cy="243.4" r="3.0" fill="#edd1cb" stroke="#000" stroke-width="1.25"/>
<text x="452.7" y="247.0" font-size="10" text-anchor="start" >5</text>
<line x1="422.8" y1="257.9" x2="445.0" y2="257.9" stroke="#c8879e" stroke-width="1.6" stroke-dasharray="5.5 2.4"/>
<path d="M431.3 254.99999999999997L437.09999999999997 260.79999999999995M431.3 260.79999999999995L437.09999999999997 254.99999999999997" stroke="#c8879e" stroke-width="1.3" fill="none"/>
<text x="452.7" y="261.5" font-size="10" text-anchor="start" >10</text>
<line x1="422.8" y1="272.9" x2="445.0" y2="272.9" stroke="#834c7d" stroke-width="1.8" stroke-dasharray="1.6 1.9"/>
<path d="M434.2 269.79999999999995L437.4 276.0L431.0 276.0Z" fill="#834c7d" stroke="#000" stroke-width="1.25" stroke-linejoin="miter"/>
<text x="452.7" y="276.5" font-size="10" text-anchor="start" >15</text>
</svg>
</body></html>
